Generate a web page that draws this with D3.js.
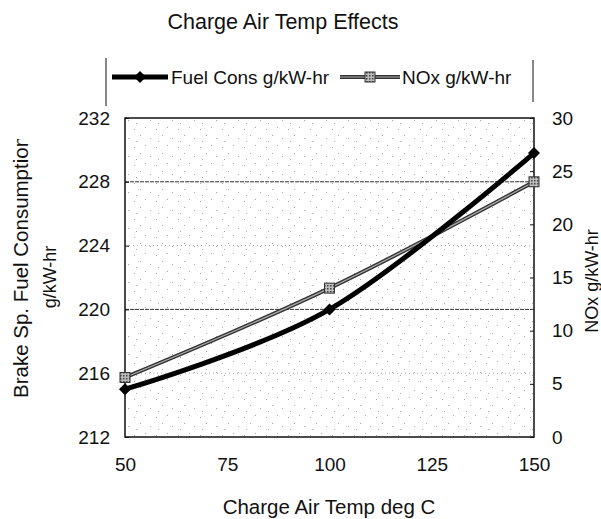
<!DOCTYPE html>
<html lang="en">
<head>
<meta charset="UTF-8">
<title>Charge Air Temp Effects</title>
<script src="https://d3js.org/d3.v7.min.js"></script>
<style>
  body { margin: 0; background: white; }
  svg { font-family: "Liberation Sans", Arial, sans-serif; }
</style>
</head>
<body>
<script>
  // data
  var temps = [50, 100, 150];
  var fuelCons = [215, 220, 229.8];
  var noxVals = [5.6, 14, 24];
  var xTicks = [50, 75, 100, 125, 150];
  var leftTicks = [212, 216, 220, 224, 228, 232];
  var rightTicks = [0, 5, 10, 15, 20, 25, 30];
  var gridVals = [216, 220, 224, 228];

  var width = 601, height = 519;
  var plot = { left: 125, right: 534, top: 118, bottom: 437 };

  var svg = d3.select("body").append("svg")
    .attr("width", width)
    .attr("height", height);

  var x = d3.scaleLinear().domain([50, 150]).range([plot.left, plot.right]);
  var yL = d3.scaleLinear().domain([212, 232]).range([plot.bottom, plot.top]);
  var yR = d3.scaleLinear().domain([0, 30]).range([plot.bottom, plot.top]);

  var defs = svg.append("defs");
  // sparse stippled plot background
  var pat = defs.append("pattern")
    .attr("id", "stipple")
    .attr("patternUnits", "userSpaceOnUse")
    .attr("width", 22).attr("height", 18);
  [[2, 3], [13, 1], [8, 9], [18, 12], [4, 15]].forEach(function(p) {
    pat.append("rect").attr("x", p[0]).attr("y", p[1])
      .attr("width", 1).attr("height", 1).attr("fill", "#aaa");
  });
  var hatch = defs.append("pattern")
    .attr("id", "hatch")
    .attr("patternUnits", "userSpaceOnUse")
    .attr("width", 3).attr("height", 3);
  hatch.append("rect").attr("width", 3).attr("height", 3).attr("fill", "#bbb");
  hatch.append("rect").attr("width", 1.5).attr("height", 1.5).attr("fill", "#444");

  defs.append("clipPath").attr("id", "labelClip")
    .append("rect").attr("x", 0).attr("y", 139).attr("width", 80).attr("height", 380);

  svg.append("rect")
    .attr("x", plot.left).attr("y", plot.top)
    .attr("width", plot.right - plot.left).attr("height", plot.bottom - plot.top)
    .attr("fill", "url(#stipple)");

  // gridlines
  svg.append("g").selectAll("line")
    .data(gridVals)
    .join("line")
    .attr("x1", plot.left).attr("x2", plot.right)
    .attr("y1", d => yL(d)).attr("y2", d => yL(d))
    .attr("stroke", d => (d === 220 || d === 228) ? "#333" : "#aaa")
    .attr("stroke-width", 1)
    .attr("stroke-dasharray", d => (d === 220 || d === 228) ? "4 1" : "1 3");

  // plot border
  svg.append("rect")
    .attr("x", plot.left).attr("y", plot.top)
    .attr("width", plot.right - plot.left).attr("height", plot.bottom - plot.top)
    .attr("fill", "none").attr("stroke", "#111").attr("stroke-width", 1.5);

  // axes
  var leftAxis = svg.append("g")
    .attr("transform", `translate(${plot.left},0)`)
    .call(d3.axisLeft(yL).tickValues(leftTicks).tickSize(-4).tickPadding(15));
  var rightAxis = svg.append("g")
    .attr("transform", `translate(${plot.right},0)`)
    .call(d3.axisRight(yR).tickValues(rightTicks).tickSize(-4).tickPadding(18));
  var bottomAxis = svg.append("g")
    .attr("transform", `translate(0,${plot.bottom})`)
    .call(d3.axisBottom(x).tickValues(xTicks).tickSize(0).tickPadding(21));
  [leftAxis, rightAxis, bottomAxis].forEach(function(a) {
    a.select(".domain").remove();
    a.selectAll("text").attr("font-size", "19px").attr("fill", "#111")
      .attr("font-family", "'Liberation Sans', Arial, sans-serif");
    a.selectAll("line").attr("stroke", "#111");
  });

  // lines
  var fuelPts = temps.map((t, i) => [t, fuelCons[i]]);
  var noxPts = temps.map((t, i) => [t, noxVals[i]]);

  var fuelLine = d3.line().x(d => x(d[0])).y(d => yL(d[1])).curve(d3.curveCatmullRom.alpha(0));
  var noxLine = d3.line().x(d => x(d[0])).y(d => yR(d[1])).curve(d3.curveCatmullRom.alpha(0));

  svg.append("path").datum(noxPts)
    .attr("d", noxLine).attr("fill", "none")
    .attr("stroke", "#333").attr("stroke-width", 4);
  svg.append("path").datum(noxPts)
    .attr("d", noxLine).attr("fill", "none")
    .attr("stroke", "#aaa").attr("stroke-width", 1.2);

  svg.append("path").datum(fuelPts)
    .attr("d", fuelLine).attr("fill", "none")
    .attr("stroke", "#000").attr("stroke-width", 5);

  svg.append("g").selectAll("rect")
    .data(noxPts)
    .join("rect")
    .attr("x", d => x(d[0]) - 5).attr("y", d => yR(d[1]) - 5)
    .attr("width", 10).attr("height", 10)
    .attr("fill", "url(#hatch)").attr("stroke", "#333").attr("stroke-width", 1);

  svg.append("g").selectAll("path")
    .data(fuelPts)
    .join("path")
    .attr("transform", d => `translate(${x(d[0])},${yL(d[1])})`)
    .attr("d", "M0,-6L6,0L0,6L-6,0Z")
    .attr("fill", "#000");

  // title
  svg.append("text")
    .attr("x", 283).attr("y", 29)
    .attr("text-anchor", "middle")
    .attr("font-size", "21.5px").attr("fill", "#111")
    .text("Charge Air Temp Effects");

  // legend
  var legend = svg.append("g");
  legend.append("line").attr("x1", 106).attr("x2", 106).attr("y1", 58).attr("y2", 106)
    .attr("stroke", "#111");
  legend.append("line").attr("x1", 533).attr("x2", 533).attr("y1", 60).attr("y2", 102)
    .attr("stroke", "#111");
  legend.append("line").attr("x1", 112).attr("x2", 168).attr("y1", 77).attr("y2", 77)
    .attr("stroke", "#000").attr("stroke-width", 5);
  legend.append("path").attr("transform", "translate(140,77)")
    .attr("d", "M0,-6L6,0L0,6L-6,0Z").attr("fill", "#000");
  legend.append("text").attr("x", 171).attr("y", 84)
    .attr("font-size", "19px").attr("fill", "#111")
    .text("Fuel Cons g/kW-hr");
  legend.append("line").attr("x1", 340).attr("x2", 400).attr("y1", 77).attr("y2", 77)
    .attr("stroke", "#333").attr("stroke-width", 4);
  legend.append("line").attr("x1", 340).attr("x2", 400).attr("y1", 77).attr("y2", 77)
    .attr("stroke", "#aaa").attr("stroke-width", 1.2);
  legend.append("rect").attr("x", 365).attr("y", 72).attr("width", 10).attr("height", 10)
    .attr("fill", "url(#hatch)").attr("stroke", "#333");
  legend.append("text").attr("x", 402).attr("y", 84)
    .attr("font-size", "19px").attr("fill", "#111")
    .text("NOx g/kW-hr");

  // axis titles
  svg.append("text")
    .attr("x", 329).attr("y", 514)
    .attr("text-anchor", "middle")
    .attr("font-size", "20.5px").attr("fill", "#111")
    .text("Charge Air Temp deg C");

  var leftTitle = svg.append("g").attr("clip-path", "url(#labelClip)");
  leftTitle.append("text")
    .attr("transform", "translate(28,398) rotate(-90)")
    .attr("text-anchor", "start")
    .attr("font-size", "20.5px").attr("fill", "#111")
    .text("Brake Sp. Fuel Consumption");
  svg.append("text")
    .attr("transform", "translate(56,277) rotate(-90)")
    .attr("text-anchor", "middle")
    .attr("font-size", "18px").attr("fill", "#111")
    .text("g/kW-hr");

  svg.append("text")
    .attr("transform", "translate(598,281) rotate(-90)")
    .attr("text-anchor", "middle")
    .attr("font-size", "18px").attr("fill", "#111")
    .text("NOx g/kW-hr");
</script>
</body>
</html>
